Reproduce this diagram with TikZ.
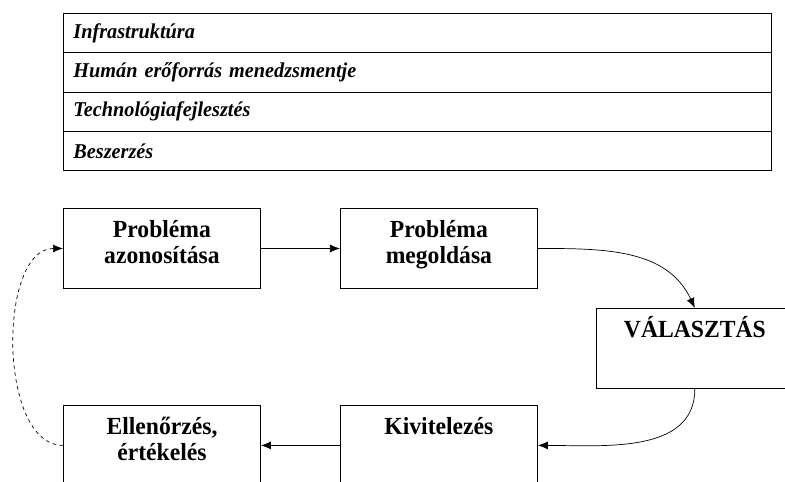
\documentclass[tikz,border=0pt]{standalone}
\usepackage{fontspec}
\setmainfont{Liberation Serif}
\newfontfamily\boxFont[FakeStretch=0.96]{Liberation Serif}
\newfontfamily\rowFont[FakeStretch=0.96]{Liberation Serif}
\usepackage{tikz}
\usetikzlibrary{positioning, arrows.meta}
\tikzset{myBox/.style={draw, line width=0.8pt, inner xsep=0pt, inner ysep=0pt, text width=59.1mm, align=center, text height=8.7mm, text depth=15.3mm, font=\boxFont\fontsize{21}{22}\selectfont\bfseries}}
\tikzset{myRow/.style={draw, line width=0.8pt, anchor=north west, inner xsep=3mm, inner ysep=0pt, text width=206.4mm, minimum height=11.8mm, align=left, font=\rowFont\fontsize{18}{20}\selectfont\bfseries\itshape}}
\tikzset{myArrow/.style={line width=0.6pt, ->}}
\tikzset{>={Latex[length=3mm, width=2.4mm]}}

\begin{document}
\begin{tikzpicture}

	\useasboundingbox (0,0) rectangle (235.5mm,-144.6mm);
	\clip (0,0) rectangle (235.5mm,-144.6mm);

	% value chain support rows
	\foreach \txt [count=\i] in {Infrastruktúra, Humán erőforrás menedzsmentje, Technológiafejlesztés, Beszerzés}{
		\node[myRow] (row\i) at (18.9mm,{-3.9mm-(\i-1)*11.78mm}) {\txt};
	}

	% process boxes
	\node[myBox, anchor=north west] (azon) at (18.9mm,-62.4mm) {Probléma\\azonosítása};
	\node[myBox, right=23.7mm of azon] (megold) {Probléma\\megoldása};
	\node[myBox, below right=5.7mm and 17.4mm of megold] (valaszt) {VÁLASZTÁS};
	\node[myBox, below=34.8mm of azon] (ellen) {Ellenőrzés,\\értékelés};
	\node[myBox, below=34.8mm of megold] (kivit) {Kivitelezés};

	\draw[myArrow] (azon) -- (megold);
	\draw[myArrow] (megold.east) to[out=0, in=115] (valaszt.north);
	\draw[myArrow] (valaszt.south) to[out=-90, in=0] (kivit.east);
	\draw[myArrow] (kivit) -- (ellen);
	\draw[myArrow, dashed] (ellen.west) to[out=180, in=180, looseness=0.85] (azon.west);
	%\draw[myArrow] (ellen) -- (azon);
\end{tikzpicture}
\end{document}
